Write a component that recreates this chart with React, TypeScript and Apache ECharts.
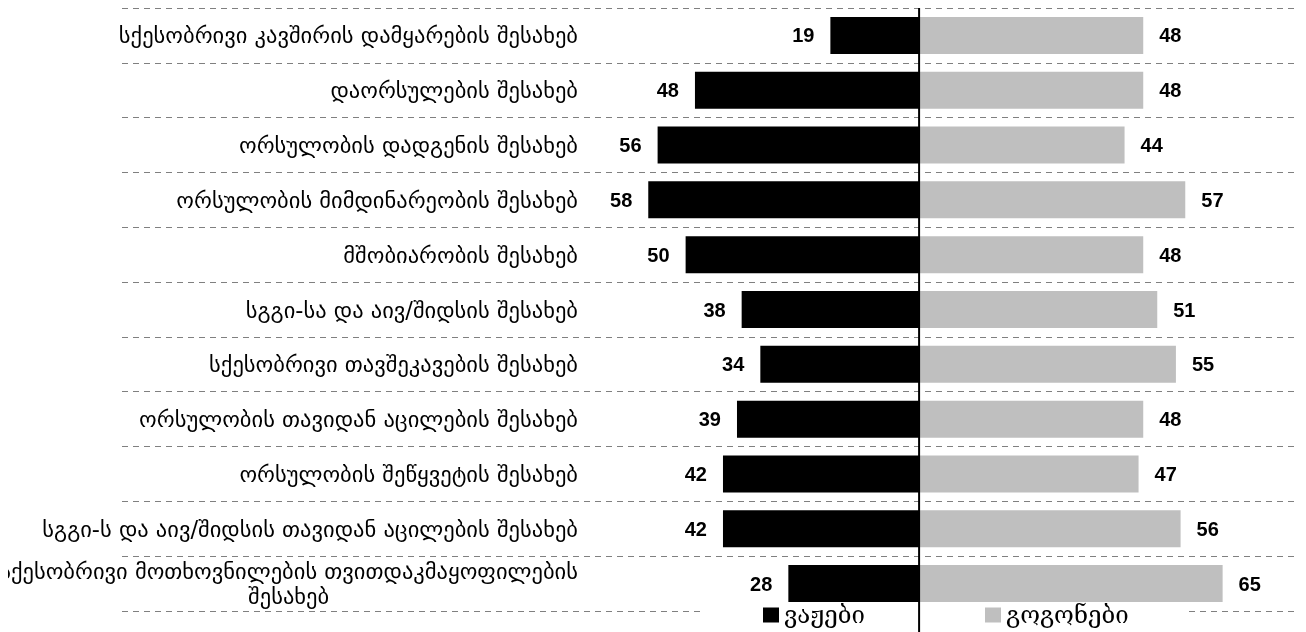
import React, { useEffect, useRef } from 'react';
import * as echarts from 'echarts';

const categories = [
  'სქესობრივი კავშირის დამყარების შესახებ',
  'დაორსულების შესახებ',
  'ორსულობის დადგენის შესახებ',
  'ორსულობის მიმდინარეობის შესახებ',
  'მშობიარობის შესახებ',
  'სგგი-სა და აივ/შიდსის შესახებ',
  'სქესობრივი თავშეკავების შესახებ',
  'ორსულობის თავიდან აცილების შესახებ',
  'ორსულობის შეწყვეტის შესახებ',
  'სგგი-ს და აივ/შიდსის თავიდან აცილების შესახებ',
  'სქესობრივი მოთხოვნილების თვითდაკმაყოფილების შესახებ',
];
const boys = [19, 48, 56, 58, 50, 38, 34, 39, 42, 42, 28];
const girls = [48, 48, 44, 57, 48, 51, 55, 48, 47, 56, 65];
const seriesNames = ['ვაჟები', 'გოგონები'];

const LABEL_FONT = '"DejaVu Sans"';
const LABEL_SIZE = 22.5;

export default function App() {
  const ref = useRef<HTMLDivElement>(null);
  useEffect(() => {
    const el = ref.current as HTMLDivElement;
    const chart = echarts.init(el, null, { renderer: 'svg' });

    const formatLabel = (v: string) => {
      if (v.length > 48) {
        const i = v.lastIndexOf(' ');
        return `{a|${v.slice(0, i)}}\n{b|${v.slice(i + 1)}}`;
      }
      return `{a|${v}}`;
    };

    const valueLabel = {
      show: true,
      distance: 16,
      fontFamily: '"Liberation Sans", Arial',
      fontWeight: 'bold' as const,
      fontSize: 20,
      color: '#000',
      formatter: (p: any) => String(Math.abs(p.value)),
    };

    chart.setOption({
      animation: false,
      grid: { left: 114, right: 11, top: 8, bottom: 21, containLabel: false, outerBoundsMode: 'none' },
      xAxis: { type: 'value', min: -170.7, max: 80.5, show: false },
      yAxis: {
        type: 'category',
        data: categories,
        inverse: true,
        offset: -464,
        axisLine: { show: false },
        axisTick: { show: false },
        axisLabel: {
          margin: 8,
          color: '#000',
          fontFamily: LABEL_FONT,
          fontSize: LABEL_SIZE,
          lineHeight: 25,
          formatter: formatLabel,
          rich: {
            a: { align: 'right', fontFamily: LABEL_FONT, fontSize: LABEL_SIZE, color: '#000', lineHeight: 25 },
            b: { align: 'center', fontFamily: LABEL_FONT, fontSize: LABEL_SIZE, color: '#000', lineHeight: 25 },
          },
        },
        splitLine: { show: true, lineStyle: { type: [6, 5], color: '#808080', width: 1 } },
      },
      legend: {
        data: seriesNames,
        left: 692,
        top: 603,
        orient: 'horizontal',
        icon: 'rect',
        itemWidth: 16,
        itemHeight: 15,
        itemGap: 51,
        selectedMode: false,
        padding: [0, 31, 0, 63],
        backgroundColor: '#fff',
        textStyle: { fontFamily: '"DejaVu Serif"', fontSize: 24, color: '#000', width: 150, lineHeight: 15 },
      },
      series: [
        {
          name: seriesNames[0],
          type: 'bar',
          stack: 'total',
          barWidth: 37,
          data: boys.map((v) => -v),
          itemStyle: { color: '#000000' },
          label: { ...valueLabel, position: 'left' },
        },
        {
          name: seriesNames[1],
          type: 'bar',
          stack: 'total',
          barWidth: 37,
          data: girls,
          itemStyle: { color: '#bfbfbf' },
          label: { ...valueLabel, position: 'right' },
        },
      ],
    });

    const x0 = chart.convertToPixel({ xAxisIndex: 0 }, 0) as number;
    chart.setOption({
      graphic: [
        {
          type: 'line',
          z: 100,
          shape: { x1: x0, y1: 8, x2: x0, y2: 632 },
          style: { stroke: '#000', lineWidth: 2 },
        },
      ],
    });

    return () => chart.dispose();
  }, []);

  return (
    <div
      ref={ref}
      style={{ position: 'fixed', left: 8, top: 0, width: 1298, height: 632 }}
    />
  );
}
